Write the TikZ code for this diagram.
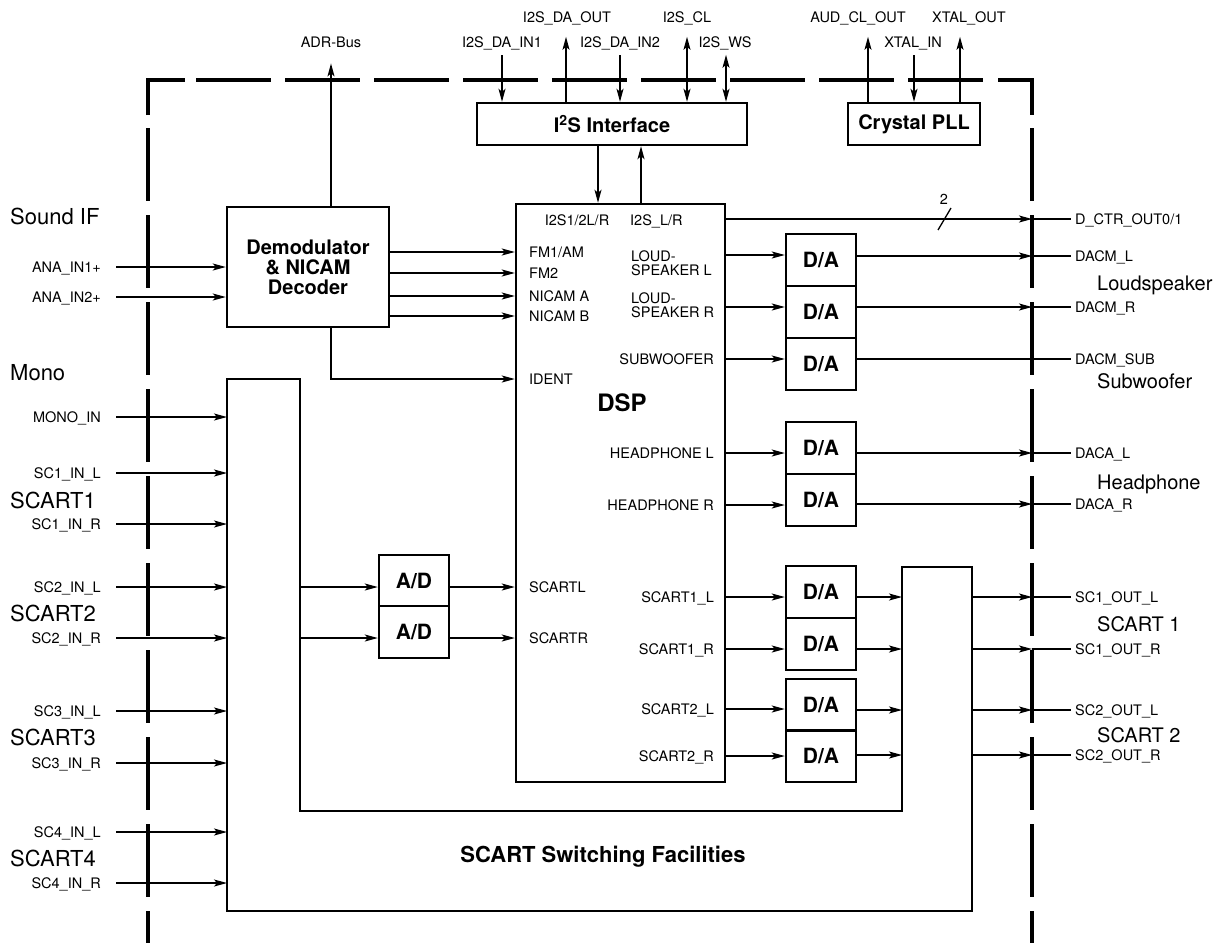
\documentclass[tikz,border=0pt]{standalone}
\usepackage{fontspec}
\setmainfont{TeX Gyre Heros}
\usetikzlibrary{arrows.meta}

\begin{document}
\begin{tikzpicture}[x=1pt, y=-1pt,
    >={Stealth[length=13pt, width=7pt, inset=3pt]},
    wire/.style={line width=1.3pt},
    blk/.style={draw, line width=2.4pt, inner sep=0pt},
    pin/.style={font=\fontsize{14.5}{16}\selectfont, inner sep=0pt, text height=10.4pt, text depth=0pt},
    grp/.style={font=\fontsize{20}{22}\selectfont, inner sep=0pt, text height=14.3pt, text depth=0pt},
    ttl/.style={font=\fontsize{20}{20}\selectfont\bfseries, align=center},
    conv/.style={blk, minimum width=70pt, minimum height=52pt, font=\fontsize{21}{23}\selectfont\bfseries},
    rim/.style={line width=4pt}]
  \useasboundingbox (0,0) rectangle (1215,943);

  % dashed chip outline
  \coordinate (rimL) at (148,80);
  \coordinate (rimR) at (1032,80);
  \draw[rim] (148,115) -- (rimL) -- (185,80);
  \draw[rim] (998,80) -- (rimR) -- (1032,115);
  \draw[rim, dash pattern=on 75pt off 14pt] (196,80) -- (983,80);
  \draw[rim, dash pattern=on 73pt off 14pt] (148,128) -- (148,943);
  \draw[rim, dash pattern=on 73pt off 14pt] (1032,128) -- (1032,943);

  % blocks
  \node[blk, ttl, minimum width=162pt, minimum height=120pt] (demod) at (308,267) {Demodulator\\\& NICAM\\Decoder};
  \node[blk, ttl, minimum width=270pt, minimum height=42pt] (i2s) at (612,124) {I\textsuperscript{2}S Interface};
  \node[blk, ttl, minimum width=132pt, minimum height=42pt] (pll) at (914,124) {Crystal PLL};
  \node[blk, minimum width=209pt, minimum height=578pt] (dsp) at (620.5,493) {};
  \node[font=\fontsize{24}{26}\selectfont\bfseries] (dspname) at (622,403) {DSP};
  \node[conv, minimum height=51pt] (adl) at (414,580.5) {A/D};
  \node[conv] (adr) at (414,632) {A/D};
  \foreach \n/\y in {dal/260, dar/312, dasub/364, dahl/448, dahr/500, das1l/592, das1r/644, das2l/705, das2r/756}
    \node[conv] (\n) at (821,\y) {D/A};

  % scart switch
  \coordinate (swIn) at (227,379);
  \coordinate (swAD) at (300,379);
  \coordinate (swDA) at (902,567);
  \coordinate (swOut) at (972,567);
  \draw[line width=2.4pt] (swIn) -- (swAD) -- (300,811) -- (902,811) -- (swDA) -- (swOut)
    -- (972,911) -- (227,911) -- cycle;
  \node[ttl, font=\fontsize{22}{22}\selectfont\bfseries] (swname) at (603,857) {SCART Switching Facilities};

  % inputs
  \foreach \n/\y/\t in {ana1/267/ANA\_IN1+, ana2/297/ANA\_IN2+} {
    \node[pin, anchor=east] (\n) at (101,\y) {\t};
    \draw[wire, ->] ([xshift=15pt]\n.east) -- (\n -| demod.west);
  }
  \foreach \n/\y/\t in {mono/417/MONO\_IN, sca/473/SC1\_IN\_L, scb/524/SC1\_IN\_R,
      scc/587/SC2\_IN\_L, scd/638/SC2\_IN\_R, sce/711/SC3\_IN\_L, scf/763/SC3\_IN\_R,
      scg/832/SC4\_IN\_L, sch/883/SC4\_IN\_R} {
    \node[pin, anchor=east] (\n) at (101,\y) {\t};
    \draw[wire, ->] ([xshift=15pt]\n.east) -- (\n -| swIn);
  }
  \foreach \n/\y/\t in {gsif/217/Sound IF, gmono/373/Mono, gsa/501/SCART1, gsb/614/SCART2,
      gsc/738/SCART3, gsd/859/SCART4}
    \node[grp, font=\fontsize{22}{24}\selectfont, text height=15.8pt, anchor=west] (\n) at (10,\y) {\t};

  % demodulator to dsp
  \foreach \n/\y/\t in {fma/252/{FM1/AM}, fmb/273/FM2, nia/296/NICAM A, nib/316/NICAM B} {
    \node[pin, anchor=west] (\n) at (529,\y) {\t};
    \draw[wire, ->] (demod.east |- \n) -- (dsp.west |- \n);
  }
  \node[pin, anchor=west] (ident) at (529,379) {IDENT};
  \draw[wire, ->] ([xshift=23pt]demod.south) |- (dsp.west |- ident);
  \node[pin] (tadr) at (331,42) {ADR-Bus};
  \draw[wire, ->] ([xshift=23pt]demod.north) -- ([yshift=-16pt]tadr.south);

  % scart inputs through A/D
  \node[pin, anchor=west] (scl) at (529,587) {SCARTL};
  \node[pin, anchor=west] (scr) at (529,638) {SCARTR};
  \draw[wire, ->] (swAD |- scl) -- (adl.west |- scl);
  \draw[wire, ->] (adl.east |- scl) -- (dsp.west |- scl);
  \draw[wire, ->] (swAD |- scr) -- (adr.west |- scr);
  \draw[wire, ->] (adr.east |- scr) -- (dsp.west |- scr);

  % top pins
  \node[pin] (tdaout) at (567,17) {I2S\_DA\_OUT};
  \node[pin] (tcl) at (687,17) {I2S\_CL};
  \node[pin] (taud) at (858,17) {AUD\_CL\_OUT};
  \node[pin] (txout) at (969,17) {XTAL\_OUT};
  \node[pin] (tdain1) at (502,42) {I2S\_DA\_IN1};
  \node[pin] (tdain2) at (620,42) {I2S\_DA\_IN2};
  \node[pin] (tws) at (725,42) {I2S\_WS};
  \node[pin] (txin) at (913,42) {XTAL\_IN};
  \draw[wire, <-] ([xshift=-110pt]i2s.north) -- ++(0,-47);
  \draw[wire, ->] ([xshift=-46pt]i2s.north) -- ++(0,-65);
  \draw[wire, <-] ([xshift=8pt]i2s.north) -- ++(0,-47);
  \draw[wire, <->] ([xshift=75pt]i2s.north) -- ++(0,-65);
  \draw[wire, <->] ([xshift=114pt]i2s.north) -- ++(0,-47);
  \draw[wire, ->] ([xshift=-46pt]pll.north) -- ++(0,-65);
  \draw[wire, <-] (pll.north) -- ++(0,-47);
  \draw[wire, ->] ([xshift=46pt]pll.north) -- ++(0,-65);
  \draw[wire, ->] ([xshift=-14pt]i2s.south) -- ++(0,56.6);
  \draw[wire, ->] ([xshift=20.5pt]dsp.north) -- ++(0,-56.6);

  % dsp outputs
  \node[pin] (lrin) at (577,220) {I2S1/2L/R};
  \node[pin, anchor=west] (lrout) at (630,220) {I2S\_L/R};
  \node[pin, anchor=west] (octr) at (1075,219) {D\_CTR\_OUT0/1};
  \draw[wire, ->] (dsp.east |- octr) -- (octr -| rimR);
  \draw[wire] (octr -| rimR) -- ([xshift=-4pt]octr.west);
  \draw[wire] (938,230) -- (951,208);
  \node[pin] (nbus) at (944,199) {2};

  \node[font=\fontsize{14.5}{14.5}\selectfont, align=left, anchor=west, inner sep=0pt] (ldal) at (631,263) {LOUD-\\SPEAKER L};
  \node[font=\fontsize{14.5}{14.5}\selectfont, align=left, anchor=west, inner sep=0pt] (ldar) at (631,305) {LOUD-\\SPEAKER R};
  \draw[wire, ->] (dsp.east |- 0,255) -- (dal.west |- 0,255);
  \draw[wire, ->] (dsp.east |- 0,307) -- (dar.west |- 0,307);
  \foreach \n/\y/\t in {dasub/359/SUBWOOFER, dahl/453/HEADPHONE L, dahr/505/HEADPHONE R,
      das1l/597/SCART1\_L, das1r/649/SCART1\_R, das2l/709/SCART2\_L, das2r/756/SCART2\_R} {
    \node[pin, anchor=east] (l\n) at (714,\y) {\t};
    \draw[wire, ->] (dsp.east |- l\n) -- (\n.west |- l\n);
  }

  % converter outputs
  \foreach \n/\y/\t in {dal/256/DACM\_L, dar/307/DACM\_R, dahl/453/DACA\_L, dahr/504/DACA\_R} {
    \node[pin, anchor=west] (o\n) at (1075,\y) {\t};
    \draw[wire, ->] (\n.east |- o\n) -- (o\n -| rimR);
    \draw[wire] (o\n -| rimR) -- ([xshift=-4pt]o\n.west);
  }
  \node[pin, anchor=west] (odasub) at (1075,359) {DACM\_SUB};
  \draw[wire] (dasub.east |- odasub) -- ([xshift=-4pt]odasub.west);
  \foreach \n/\y/\t in {das1l/597/SC1\_OUT\_L, das1r/649/SC1\_OUT\_R, das2l/710/SC2\_OUT\_L, das2r/755/SC2\_OUT\_R} {
    \node[pin, anchor=west] (o\n) at (1075,\y) {\t};
    \draw[wire, ->] (\n.east |- o\n) -- (o\n -| swDA);
    \draw[wire, ->] (o\n -| swOut) -- (o\n -| rimR);
    \draw[wire] (o\n -| rimR) -- ([xshift=-4pt]o\n.west);
  }
  \foreach \n/\y/\t in {gls/283/Loudspeaker, gsub/381/Subwoofer, ghp/482/Headphone,
      gsco/624/SCART 1, gsct/735/SCART 2}
    \node[grp, anchor=west] (\n) at (1097,\y) {\t};
\end{tikzpicture}
\end{document}
